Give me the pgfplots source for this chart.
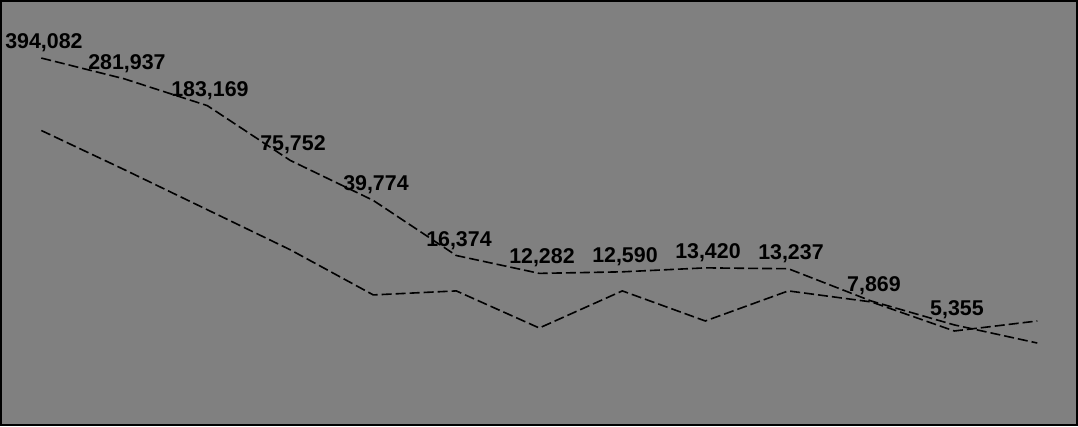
\documentclass[border=0pt]{standalone}
\usepackage{pgfplots}
\usepackage{pgfplotstable}
\pgfplotsset{compat=1.18}
\usepackage{fontspec}
\setmainfont{Liberation Sans}
\definecolor{bggray}{HTML}{808080}

\pgfplotstableread{
x y label
0 394082 394,082
1 281937 281,937
2 183169 183,169
3 75752 75,752
4 39774 39,774
5 16374 16,374
6 12282 12,282
7 12590 12,590
8 13420 13,420
9 13237 13,237
10 7869 7,869
11 5355 5,355
12 4000 {}
}\upperdata

\pgfplotstableread{
x y
0 122700
1 65300
2 34240
3 17960
4 8680
5 9260
6 5095
7 9260
8 5705
9 9260
10 7755
11 4855
12 5705
}\lowerdata

\begin{document}
\begin{tikzpicture}
\begin{axis}[
  scale only axis,
  width=804.75pt, height=317.25pt,
  ymode=log,
  xmin=-0.483, xmax=12.476,
  ymin=1064, ymax=984500,
  axis background/.style={fill=bggray},
  axis line style={line width=1.8pt, black},
  ticks=none,
  clip=false,
]
\addplot[black, line width=1.2pt, dash pattern=on 7.5pt off 3pt,
  nodes near coords,
  point meta=explicit symbolic,
  every node near coord/.append style={font=\fontsize{16}{19}\selectfont\bfseries, inner sep=0pt, anchor=south, xshift=2pt, yshift=4pt, black},
] table[x=x, y=y, meta=label] {\upperdata};
\addplot[black, line width=1.2pt, dash pattern=on 7.5pt off 3pt] table[x=x, y=y] {\lowerdata};
\end{axis}
\end{tikzpicture}
\end{document}
